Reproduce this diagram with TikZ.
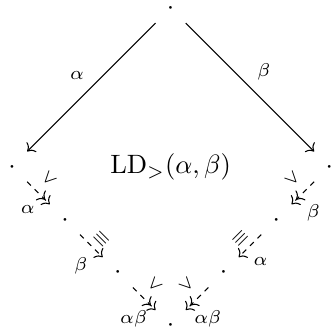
\documentclass[tikz,border=0pt]{standalone}
\usepackage{amsmath,amssymb}
\usetikzlibrary{arrows.meta,positioning}

\begin{document}
\begin{tikzpicture}[
    node distance=7mm and 7mm, on grid,
    vtx/.style={inner sep=0pt,minimum size=11pt,text height=5pt,text depth=0pt},
    lab/.style={font=\scriptsize},
    arr/.style={->},
    darr/.style={dash pattern=on 2pt off 2pt},
    rel/.style={lab,sloped,above=1pt,pos=0.42},
    eqv/.style={lab,sloped,above=-0.8pt,pos=0.56},
    lbl/.style={lab,below=1pt,xshift=-4pt},
    rbl/.style={lab,below=1pt,xshift=4pt}
  ]
    \useasboundingbox (-2.26,0.106) rectangle (2.11,-4.277);
    \node[vtx] (top) at (0,0) {$\cdot$};
    \node[vtx,below left=21mm and 21mm of top] (lft) {$\cdot$};
    \node[vtx,below right=21mm and 21mm of top] (rgt) {$\cdot$};
    \node[vtx,below right=of lft] (l1) {$\cdot$};
    \node[vtx,below right=of l1] (l2) {$\cdot$};
    \node[vtx,below right=of l2] (bot) {$\cdot$};
    \node[vtx,below left=of rgt] (r1) {$\cdot$};
    \node[vtx,below left=of r1] (r2) {$\cdot$};
    \node[below=21mm of top] (ld) {$\mathrm{LD}_{>}(\alpha,\beta)$};
    % top peak
    \draw[arr] (top) -- node[lab,above left=-1pt]{$\alpha$} (lft);
    \draw[arr] (top) -- node[lab,above right=-1pt]{$\beta$} (rgt);
    % left side
    \draw[darr,->>] (lft) -- node[rel]{$\vee$} node[lbl]{$\alpha$} (l1);
    \draw[darr,->] (l1) -- node[eqv]{$\equiv$} node[lbl]{$\beta$} (l2);
    \draw[darr,->>] (l2) -- node[rel]{$\vee$} node[lbl]{$\alpha\beta$} (bot);
    % right side
    \draw[darr,->>] (rgt) -- node[rel]{$\vee$} node[rbl]{$\beta$} (r1);
    \draw[darr,->] (r1) -- node[eqv]{$\equiv$} node[rbl]{$\alpha$} (r2);
    \draw[darr,->>] (r2) -- node[rel]{$\vee$} node[rbl]{$\alpha\beta$} (bot);
  \end{tikzpicture}
\end{document}
